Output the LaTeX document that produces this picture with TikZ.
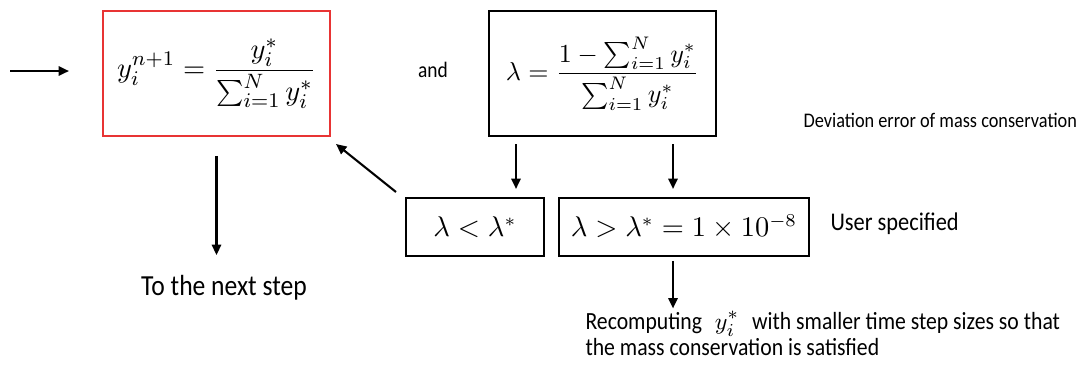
\documentclass[tikz,border=0pt]{standalone}
\usepackage{fontspec}
\setmainfont[FakeStretch=0.88]{Carlito}
\usetikzlibrary{positioning,calc,arrows.meta}
\definecolor{boxred}{RGB}{232,52,52}

\begin{document}
\begin{tikzpicture}
	[x=0.385pt, y=-0.385pt,
	 flow/.style={-{Triangle[length=4pt,width=3.6pt]}, line width=0.8pt},
	 eqbox/.style={draw, line width=0.8pt, minimum width=87.4pt, minimum height=48.1pt, inner sep=0pt},
	 testbox/.style={draw, line width=0.8pt, minimum height=22.3pt, inner sep=0pt, font=\fontsize{10.5}{13}\selectfont},
	 note/.style={inner sep=0pt, font=\fontsize{9.8}{10}\selectfont},
	 gapped/.style={shorten <=2.7pt, shorten >=3.1pt}]
	\useasboundingbox (0,0) rectangle (1083,376);

	\node[eqbox, draw=boxred, font=\fontsize{11.3}{13}\selectfont] (norm) at (216.5,73.5)
		{$\displaystyle y_i^{n+1} = \frac{y_i^*}{\sum_{i=1}^N y_i^*}$};
	\node[note, font=\fontsize{8.5}{9}\selectfont] (and) at (433,70) {and};
	\node[eqbox] (lam) at (602.5,73.5)
		{$\displaystyle \lambda = \frac{1-\sum_{i=1}^N y_i^*}{\sum_{i=1}^N y_i^*}$};
	\node[note, anchor=west, font=\fontsize{8}{9}\selectfont] (dev) at (803,120) {Deviation error of mass conservation};

	\node[testbox, minimum width=53.1pt] (small) at (475,227) {$\lambda < \lambda^*$};
	\node[testbox, minimum width=96.3pt] (big) at (684,227) {$\lambda > \lambda^* = 1\times 10^{-8}$};
	\node[note, anchor=west] (user) at (830,224) {User specified};

	\node[note, font=\fontsize{11.2}{11}\selectfont] (next) at (224,288) {To the next step};
	\node[note, anchor=north west, align=left, font=\fontsize{9.5}{9.8}\selectfont] (rec) at (585,311)
		{Recomputing\hspace{3pt} $y_i^*$\hspace{3pt} with smaller time step sizes so that\\the mass conservation is satisfied};

	\coordinate (in) at (10,71);
	\coordinate (l) at (516,0);
	\coordinate (r) at (673,0);

	% arrows
	\draw[flow, shorten >=12.7pt] (in) -- (in -| norm.west);
	\draw[flow, shorten <=7.3pt, shorten >=7.7pt] (norm.south) -- (norm.south |- next.north);
	\draw[flow] ([shift={(-9,-5)}]small.north west) -- ([shift={(5,7)}]norm.south east);
	\draw[flow, gapped] (lam.south -| l) -- (small.north -| l);
	\draw[flow, gapped] (lam.south -| r) -- (big.north -| r);
	\draw[flow, shorten <=1.5pt, shorten >=1pt] (big.south -| r) -- (rec.north -| r);
\end{tikzpicture}
\end{document}
